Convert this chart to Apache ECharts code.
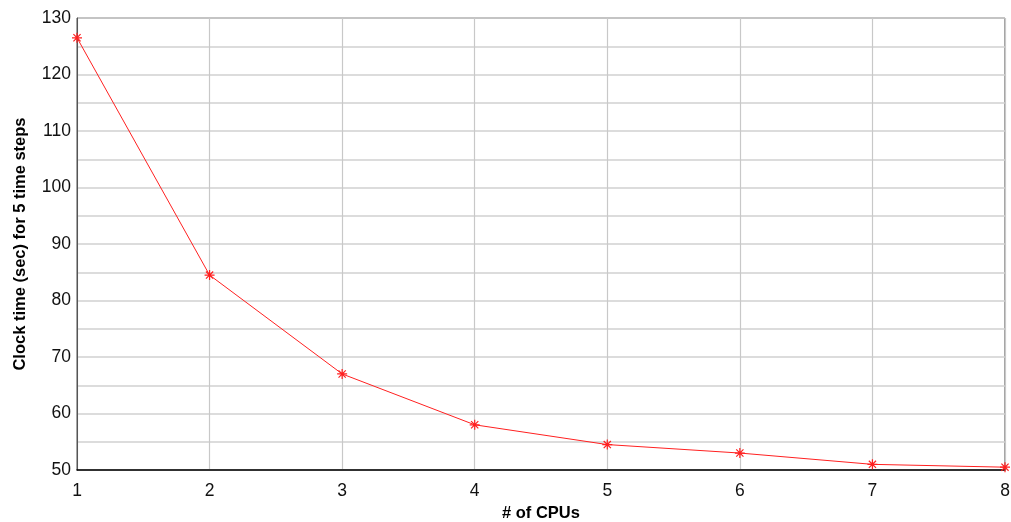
<!DOCTYPE html>
<html>
<head>
<meta charset="utf-8">
<script src="https://cdn.jsdelivr.net/npm/echarts@6/dist/echarts.min.js"></script>
<style>
  html, body { margin: 0; padding: 0; background: #fff; }
  #chart { width: 1011px; height: 522px; }
</style>
</head>
<body>
<div id="chart"></div>
<script>
var cpus = [1, 2, 3, 4, 5, 6, 7, 8];
var clockTimes = [126.5, 84.5, 67, 58, 54.5, 53, 51, 50.5];

var chart = echarts.init(document.getElementById('chart'));

// asterisk marker, drawn as stroked lines
var star = 'path://M0,-5L0,5M-5,0L5,0M-3.6,-3.6L3.6,3.6M-3.6,3.6L3.6,-3.6';

var option = {
    animation: false,
    textStyle: { fontFamily: 'Liberation Sans, Arial, sans-serif' },
    grid: {
        left: 77, right: 6, top: 18, bottom: 52,
        containLabel: false,
        outerBoundsMode: 'none',
        show: true, borderColor: '#444', borderWidth: 1
    },
    xAxis: {
        type: 'value',
        min: 1, max: 8, interval: 1,
        name: '# of CPUs',
        nameLocation: 'middle',
        nameGap: 33,
        nameTextStyle: { fontSize: 16.5, fontWeight: 'bold', color: '#000' },
        axisLine: { lineStyle: { color: '#000', width: 1.5 } },
        axisTick: { show: false },
        axisLabel: { fontSize: 17.5, color: '#111', margin: 12 },
        splitLine: { lineStyle: { color: '#c8c8c8', width: 1.2 } }
    },
    yAxis: {
        type: 'value',
        min: 50, max: 130, interval: 5,
        name: 'Clock time (sec) for 5 time steps',
        nameLocation: 'middle',
        nameGap: 48,
        nameTextStyle: { fontSize: 16.5, fontWeight: 'bold', color: '#000' },
        axisLine: { show: true, lineStyle: { color: '#555' } },
        axisTick: { show: false },
        axisLabel: {
            fontSize: 17.5, color: '#111', margin: 6,
            formatter: function (v) { return v % 10 === 0 ? v : ''; }
        },
        splitLine: { lineStyle: { color: '#d0d0d0', width: 1.5 } }
    },
    series: [{
        type: 'line',
        data: cpus.map(function (c, i) { return [c, clockTimes[i]]; }),
        symbol: star,
        symbolSize: 10,
        showAllSymbol: true,
        lineStyle: { color: '#ff2020', width: 1 },
        itemStyle: { color: 'none', borderColor: '#ff2020', borderWidth: 1.2 }
    }]
};

chart.setOption(option);
</script>
</body>
</html>
